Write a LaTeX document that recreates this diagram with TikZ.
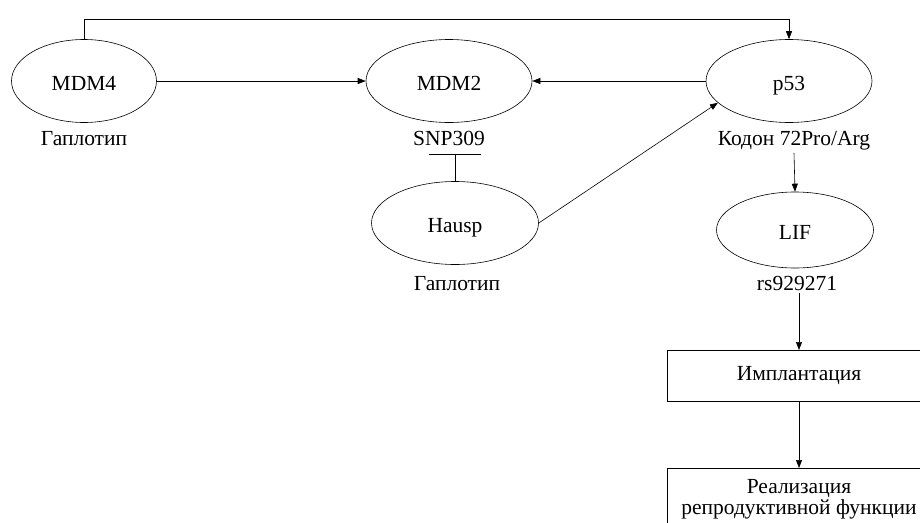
\documentclass[tikz,border=0pt]{standalone}
\usepackage{fontspec}
\setmainfont{Liberation Serif}
\usetikzlibrary{shapes.geometric,arrows.meta}
\begin{document}
\begin{tikzpicture}[x=1pt,y=-1pt,
  every node/.style={font=\fontsize{21.5}{21}\selectfont},
  oval/.style={ellipse,draw,line width=0.6pt,inner sep=0pt,text height=18pt,text depth=0pt},
  lbl/.style={anchor=base,inner sep=3pt},
  stepbox/.style={rectangle,draw,line width=0.6pt,minimum width=264pt,align=center},
  arr/.style={line width=0.6pt,-{Triangle[length=8pt,width=6pt]}},
  ln/.style={line width=0.6pt}]
\useasboundingbox (0,0) rectangle (920,522);
\node[oval,minimum width=145pt,minimum height=83pt] (mdm4) at (84,81) {MDM4};
\node[oval,minimum width=166pt,minimum height=83pt] (mdm2) at (449,81) {MDM2};
\node[oval,minimum width=166pt,minimum height=83pt] (p53) at (789,81) {p53};
\node[oval,minimum width=167pt,minimum height=83pt] (hausp) at (455,223) {Hausp};
\node[oval,minimum width=157pt,minimum height=76pt] (lif) at (795,230) {LIF};
\node[lbl] (g1) at (84,145) {Гаплотип};
\node[lbl] (snp) at (449,145) {SNP309};
\node[lbl] (kodon) at (794,145) {Кодон 72Pro/Arg};
\node[lbl] (g2) at (457,290) {Гаплотип};
\node[lbl] (rs) at (797,290) {rs929271};
\node[stepbox,minimum height=51pt,anchor=north] (impl) at (799,350) {Имплантация};
\node[stepbox,minimum height=62pt,anchor=north] (real) at (799,468) {Реализация\\репродуктивной функции};
\coordinate (top) at (0,19);
\coordinate (inh) at (455,154);
\draw[arr] (mdm4.north) -- (mdm4.north |- top) -| (p53.north);
\draw[arr] (mdm4.east) -- (mdm2.west);
\draw[arr] (p53.west) -- (mdm2.east);
\draw[arr] (hausp.east) -- (p53.197);
\draw[ln,-{Bar[width=52pt]}] (hausp.north) -- (inh);
\draw[arr] (kodon.south) -- (lif.north);
\draw[arr] (impl.north |- rs.south) -- (impl.north);
\draw[arr] (impl.south) -- (real.north);
\end{tikzpicture}
\end{document}
